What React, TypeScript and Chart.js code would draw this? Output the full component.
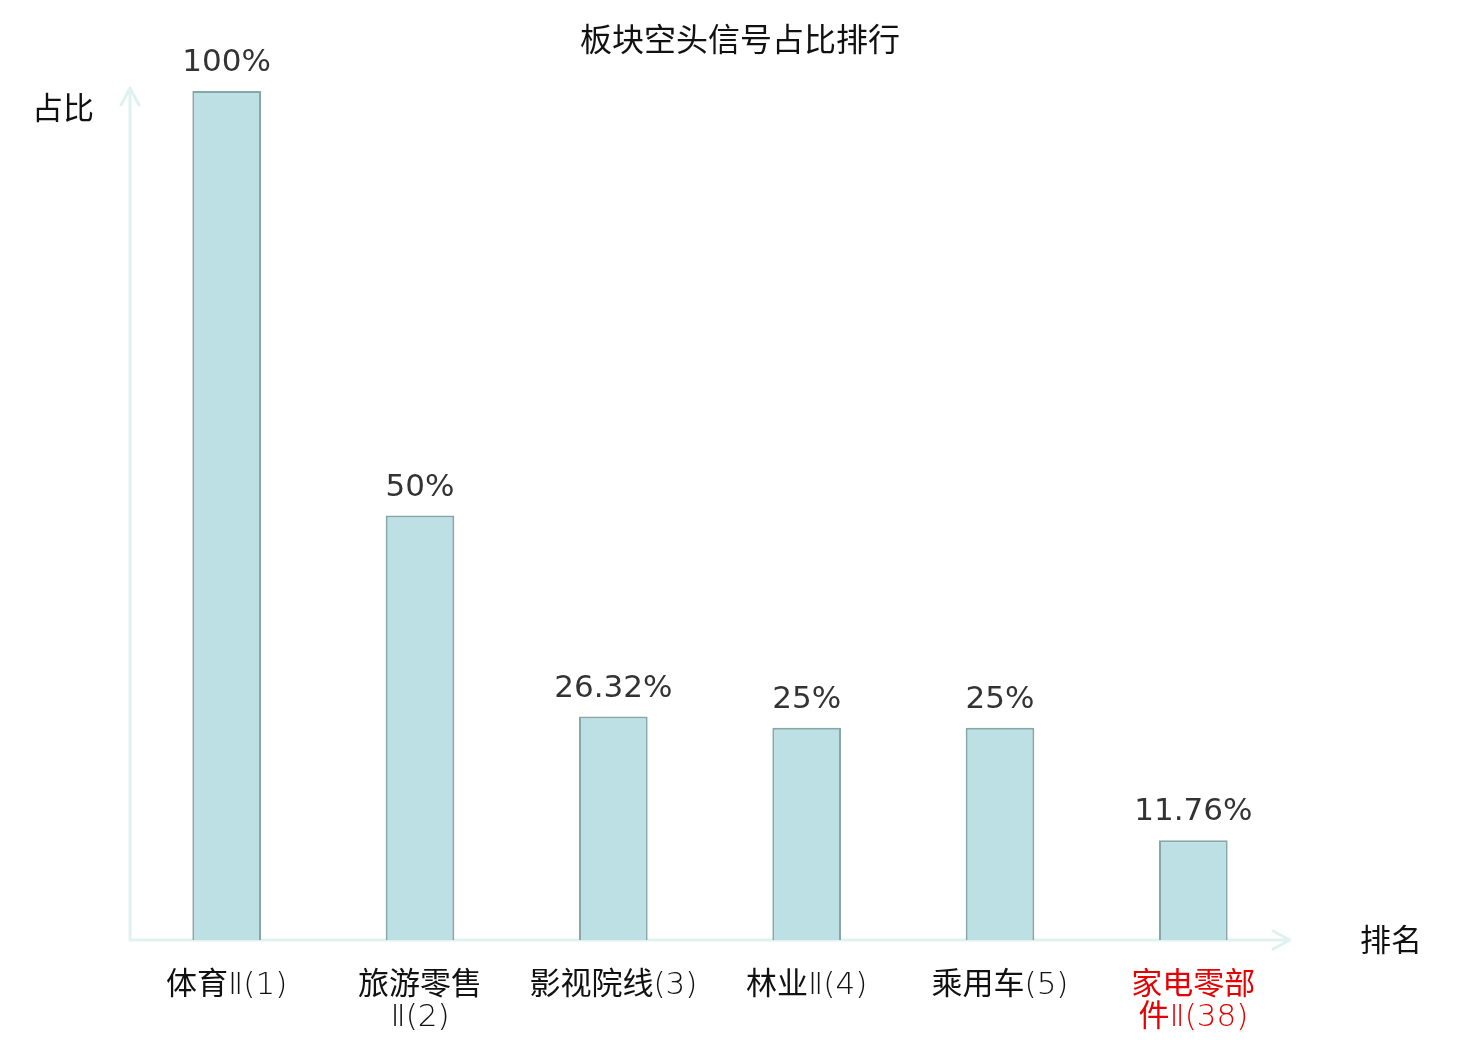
import { useEffect, useRef } from "react";
import { Chart, registerables, Plugin } from "chart.js";

Chart.register(...registerables);

const categories: string[][] = [
  ["体育Ⅱ(1)"],
  ["旅游零售", "Ⅱ(2)"],
  ["影视院线(3)"],
  ["林业Ⅱ(4)"],
  ["乘用车(5)"],
  ["家电零部", "件Ⅱ(38)"],
];
const shareValues = [100, 50, 26.32, 25, 25, 11.76];
const valueLabels = ["100%", "50%", "26.32%", "25%", "25%", "11.76%"];
const highlightIndex = 5;

const chartTitle = "板块空头信号占比排行";
const yAxisName = "占比";
const xAxisName = "排名";

const AXIS_COLOR = "#dff2ef";
const FONT = "'DejaVu Sans', 'Noto Sans CJK SC', sans-serif";
const TICK_FONT = "'DejaVu Sans Light', 'Noto Sans CJK SC', sans-serif";

// axes with arrows, title, axis names and value labels
const decorPlugin: Plugin<"bar"> = {
  id: "decor",
  beforeDatasetsDraw(chart) {
    const { ctx, chartArea } = chart;
    const { left, right, top, bottom } = chartArea;
    ctx.save();
    ctx.strokeStyle = AXIS_COLOR;
    ctx.lineWidth = 3;
    ctx.lineCap = "round";
    ctx.lineJoin = "round";
    const tipY = top - 3;
    ctx.beginPath();
    ctx.moveTo(left, bottom);
    ctx.lineTo(left, tipY);
    ctx.moveTo(left - 9, tipY + 17);
    ctx.lineTo(left, tipY);
    ctx.lineTo(left + 9, tipY + 17);
    ctx.moveTo(left, bottom);
    ctx.lineTo(right, bottom);
    ctx.moveTo(right - 17, bottom - 9);
    ctx.lineTo(right, bottom);
    ctx.lineTo(right - 17, bottom + 9);
    ctx.stroke();
    ctx.restore();
  },
  afterDraw(chart) {
    const { ctx, chartArea } = chart;
    ctx.save();
    ctx.textAlign = "center";
    ctx.textBaseline = "middle";
    ctx.fillStyle = "#111";
    ctx.font = `32px ${FONT}`;
    ctx.fillText(chartTitle, chart.width / 2, 43);
    ctx.font = `31px ${FONT}`;
    ctx.fillText(yAxisName, 63, 111);
    ctx.fillText(xAxisName, chartArea.right + 101, chartArea.bottom + 3);

    ctx.fillStyle = "#333";
    const meta = chart.getDatasetMeta(0);
    meta.data.forEach((bar, i) => {
      const { x, y } = bar.getProps(["x", "y"], true);
      ctx.fillText(valueLabels[i], x, y - 28);
    });
    ctx.restore();
  },
};

export default function App() {
  const canvasRef = useRef<HTMLCanvasElement>(null);

  useEffect(() => {
    document.body.style.margin = "0";
    if (!canvasRef.current) return;
    const chart = new Chart(canvasRef.current, {
      type: "bar",
      data: {
        labels: categories,
        datasets: [
          {
            data: shareValues,
            backgroundColor: "#bce0e3",
            borderColor: "#87a6a7",
            borderWidth: 2,
            categoryPercentage: 1,
            barPercentage: 0.355,
          },
        ],
      },
      options: {
        responsive: true,
        maintainAspectRatio: false,
        animation: false,
        layout: { padding: { left: 130, right: 190, top: 91, bottom: 0 } },
        plugins: {
          legend: { display: false },
          tooltip: { enabled: false },
        },
        scales: {
          y: { display: false, min: 0, max: 100 },
          x: {
            grid: { display: false },
            border: { display: false },
            afterFit: (scale) => {
              scale.height = 100;
            },
            ticks: {
              autoSkip: false,
              maxRotation: 0,
              padding: 22,
              font: { size: 31, family: TICK_FONT, lineHeight: 1.03 },
              color: (c) => (c.index === highlightIndex ? "#e60000" : "#111"),
            },
          },
        },
      },
      plugins: [decorPlugin],
    });
    return () => chart.destroy();
  }, []);

  return (
    <div style={{ width: 1480, height: 1040, position: "relative", background: "#fff" }}>
      <canvas ref={canvasRef} />
    </div>
  );
}
